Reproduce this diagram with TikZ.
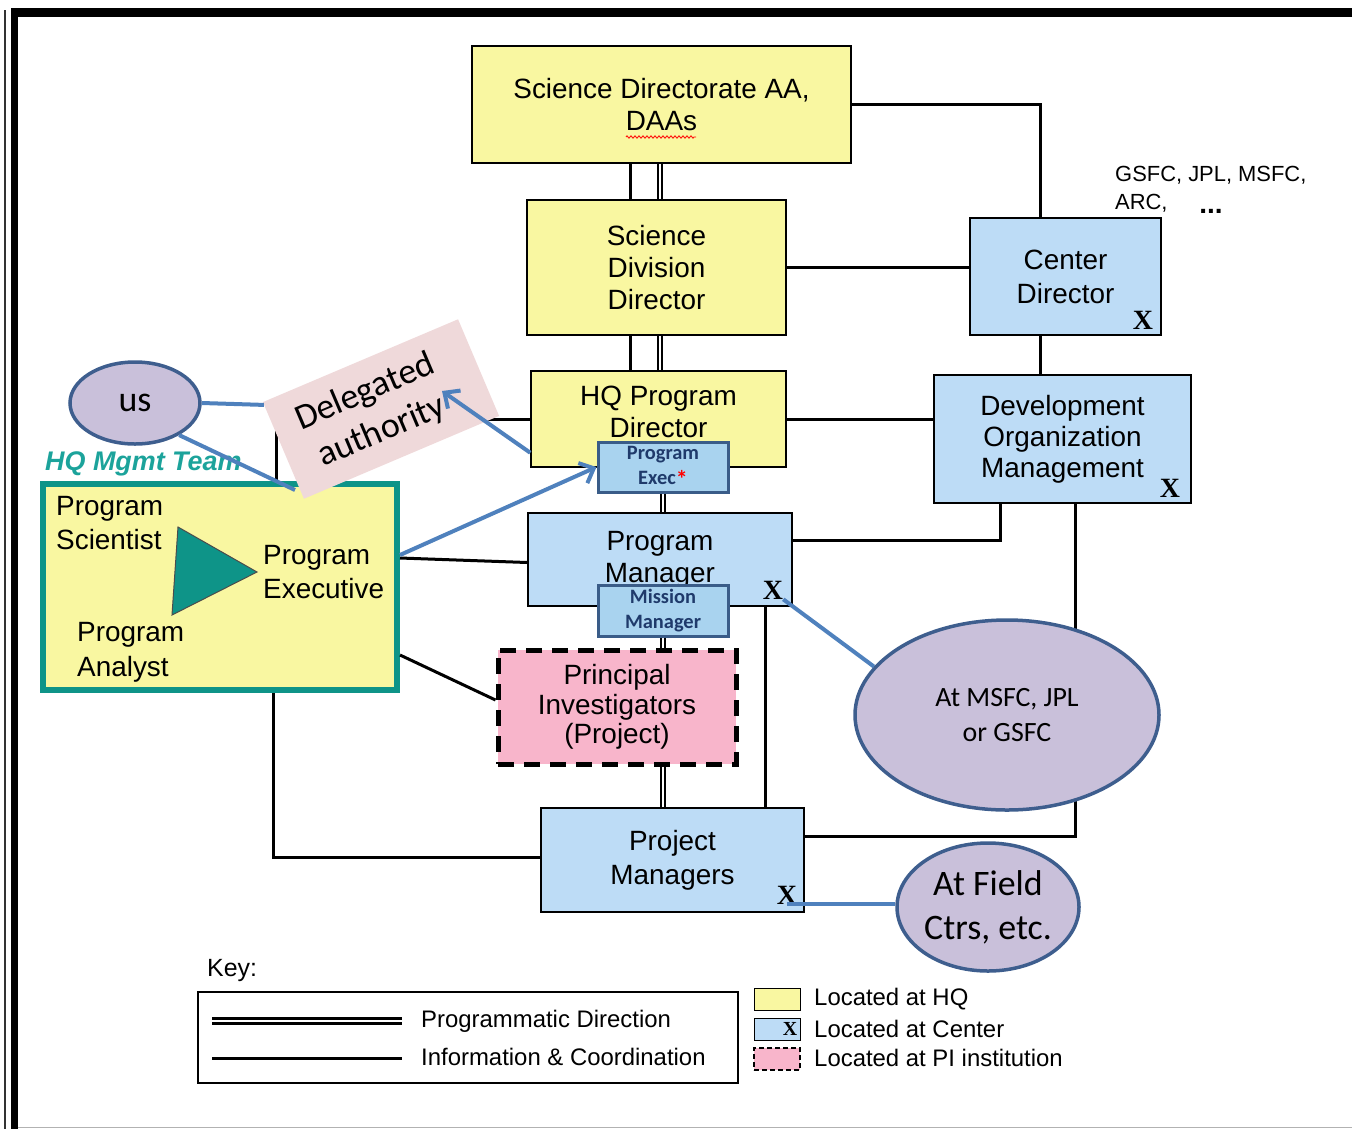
\documentclass[tikz,border=0pt]{standalone}
\usepackage{fontspec}
\setmainfont{Liberation Sans}
\newfontfamily\calibri{Carlito}
\newfontfamily\serifx{Liberation Serif}
\usetikzlibrary{arrows.meta,shapes.geometric,decorations.pathmorphing}

\begin{document}
\begin{tikzpicture}[x=1bp, y=-1bp,
  box/.style={draw=black, line width=1.5bp, inner sep=0pt, align=center,
    font=\fontsize{28}{32}\selectfont},
  hqbox/.style={box, fill=hqyellow},
  ctrbox/.style={box, fill=ctrblue},
  pibox/.style={box, fill=pipink, line width=5bp, dash pattern=on 16bp off 10bp},
  subbox/.style={draw=subedge, line width=3bp, fill=subblue, inner sep=0pt,
    align=center, text=navy, font=\calibri\bfseries\fontsize{20.5}{25}\selectfont},
  bubble/.style={ellipse, draw=bubbleedge, line width=3.5bp, fill=bubblefill,
    inner sep=0pt, align=center},
  xmark/.style={inner sep=0pt, font=\serifx\bfseries\fontsize{28}{28}\selectfont},
  info/.style={draw=black, line width=3bp},
  prog/.style={draw=black, line width=2.2bp, double=white, double distance=2.5bp},
  note/.style={draw=noteblue, line width=4bp},
  teamtext/.style={anchor=west, align=left, inner sep=0pt,
    font=\fontsize{28}{35}\selectfont},
  keytext/.style={anchor=west, inner sep=0pt, font=\fontsize{24}{28}\selectfont}
]
  % Define colors
  \definecolor{hqyellow}{HTML}{F9F7A1}
  \definecolor{ctrblue}{HTML}{BDDCF6}
  \definecolor{pipink}{HTML}{F8B5CB}
  \definecolor{subblue}{HTML}{A9D3EF}
  \definecolor{subedge}{HTML}{3A5C88}
  \definecolor{navy}{HTML}{1F3A6B}
  \definecolor{notepink}{HTML}{EFD9DA}
  \definecolor{bubblefill}{HTML}{C9C0DA}
  \definecolor{bubbleedge}{HTML}{3E5E8E}
  \definecolor{noteblue}{HTML}{4F81BD}
  \definecolor{teamteal}{HTML}{0E9488}
  \definecolor{teamlabel}{HTML}{1CA39B}

  \useasboundingbox (0,0) rectangle (1352,1129);

  % Page frame
  \fill[black] (11,8) rectangle (1352,17);
  \fill[black] (11,8) rectangle (18,1129);
  \draw[black!80, line width=1.5bp] (5,10) -- (5,1129);
  \draw[black!30, line width=1.5bp] (18,1127.5) -- (1352,1127.5);

  % Columns for the connectors
  \coordinate (infocol) at (630,0);
  \coordinate (progcol) at (660,0);
  \coordinate (pmcol) at (765,0);
  \coordinate (cdcol) at (1040,0);
  \coordinate (domleft) at (1000,0);
  \coordinate (domright) at (1075,0);
  \coordinate (teamtop) at (276,0);
  \coordinate (teambot) at (273,0);

  % Boxes
  \node[hqbox, minimum width=379bp, minimum height=117bp] (sdaa) at (661.5,104.5) {Science Directorate AA,\\DAAs};
  \draw[red, line width=0.8bp, decorate, decoration={zigzag, segment length=4bp, amplitude=1.2bp}] (626,137) -- (696,137);
  \node[hqbox, minimum width=259bp, minimum height=135bp] (sdd) at (656.5,267.5) {Science\\Division\\Director};
  \node[hqbox, minimum width=255bp, minimum height=96bp] (hqpd) at (658.5,419) {};
  \node[inner sep=0pt, align=center, font=\fontsize{28}{32}\selectfont] (hqpdtext) at (658.5,412) {HQ Program\\Director};
  \node[subbox, minimum width=130bp, minimum height=50bp] (pexec) at (663,467) {Program\\Exec{\color{red}\raisebox{-3bp}{\fontsize{24}{25}\selectfont*}}};
  \node[ctrbox, minimum width=264bp, minimum height=93bp] (pm) at (660,559.5) {Program\\Manager};
  \node[subbox, minimum width=130bp, minimum height=51bp] (mman) at (663,610.5) {Mission\\Manager};
  \node[pibox, minimum width=238bp, minimum height=114bp, font=\fontsize{28}{29.5}\selectfont] (pi) at (617,707) {Principal\\Investigators\\(Project)};
  \node[ctrbox, minimum width=263bp, minimum height=104bp, font=\fontsize{28}{34}\selectfont] (projm) at (672.5,860) {Project\\Managers};
  \node[ctrbox, minimum width=191bp, minimum height=117bp, font=\fontsize{28}{34}\selectfont] (cd) at (1065.5,276.5) {Center\\Director};
  \node[ctrbox, minimum width=257bp, minimum height=128bp, font=\fontsize{28}{31}\selectfont] (dom) at (1062.5,439) {Development\\Organization\\Management};

  % Center marks
  \node[xmark] (cdx) at (1143,320) {X};
  \node[xmark] (domx) at (1170,488) {X};
  \node[xmark] (pmx) at (773,590) {X};
  \node[xmark] (projx) at (787,895) {X};

  % Centers
  \node[anchor=west, align=left, inner sep=0pt, font=\fontsize{22}{28}\selectfont] (centers) at (1115,189) {GSFC, JPL, MSFC,\\ARC,};
  \node[inner sep=0pt, font=\bfseries\fontsize{28}{28}\selectfont] (dots) at (1211,211) {...};

  % HQ management team
  \node[draw=teamteal, line width=6bp, fill=hqyellow, minimum width=354bp, minimum height=206bp] (hqm) at (220,587) {};
  \node[anchor=west, inner sep=0pt, text=teamlabel, font=\bfseries\itshape\fontsize{27}{27}\selectfont] (teamlbl) at (45,464) {HQ Mgmt Team};
  \filldraw[fill=teamteal, draw=black!70, line width=1bp] (178,527) -- (172,615) -- (257,572) -- cycle;
  \node[teamtext] (psci) at (56,523) {Program\\Scientist};
  \node[teamtext] (pexe) at (263,572) {Program\\Executive};
  \node[teamtext] (pana) at (77,652) {Program\\Analyst};

  % Programmatic direction
  \foreach \a/\b in {sdaa/sdd, sdd/hqpd} {
    \draw[info] (infocol |- \a.south) -- (infocol |- \b.north);
    \draw[prog] (progcol |- \a.south) -- (progcol |- \b.north);
  }
  \foreach \a/\b in {pexec/pm, mman/pi, pi/projm} {
    \draw[prog] (pexec.south |- \a.south) -- (pexec.south |- \b.north);
  }

  % Information and coordination
  \draw[info] (sdaa.east) -| (cdcol |- cd.north);
  \draw[info] (sdd.east) -- (sdd.east -| cd.west);
  \draw[info] (cdcol |- cd.south) -- (cdcol |- dom.north);
  \draw[info] (hqpd.east) -- (hqpd.east -| dom.west);
  \draw[info] ([yshift=19bp]pm.east) -| (domleft |- dom.south);
  \draw[info] (domright |- dom.south) |- ([yshift=24bp]projm.east);
  \draw[info] (pmcol |- pm.south) -- (pmcol |- projm.north);
  \draw[info] ([yshift=29bp]hqm.east) -- ([yshift=-3bp]pm.west);
  \draw[info] ([yshift=-68bp]hqm.east) -- ([yshift=7bp]pi.west);
  \draw[info] (teambot |- hqm.south) |- ([yshift=3bp]projm.west);
  \draw[info] (hqpd.west) -| (teamtop |- hqm.north);

  % Notes
  \node[fill=notepink, rotate=23, minimum width=212bp, minimum height=105bp, inner sep=0pt, align=center, font=\calibri\fontsize{36}{43}\selectfont] (deleg) at (381,409) {Delegated\hspace*{16bp}\\authority\hspace*{16bp}};
  \node[bubble, minimum width=130bp, minimum height=82bp, font=\calibri\fontsize{36}{36}\selectfont] (us) at (135,403) {us};
  \node[bubble, minimum width=304bp, minimum height=190bp, font=\calibri\fontsize{28}{36}\selectfont] (msfc) at (1007,715) {At MSFC, JPL\\or GSFC};
  \node[bubble, minimum width=182bp, minimum height=128bp, font=\calibri\fontsize{36}{44}\selectfont] (field) at (988,907) {At Field\\Ctrs, etc.};
  \coordinate (teamtip) at (295,490);
  \coordinate (delegtip) at (442,391);

  \draw[note] (us.east) -- (deleg.155);
  \draw[note] (us.-36) -- (teamtip);
  \draw[note, -{Straight Barb[length=12bp, width=22bp]}] ([yshift=15bp]hqpd.south west) -- (delegtip);
  \draw[note, -{Straight Barb[length=12bp, width=22bp]}] ([yshift=32bp]hqm.east) -- (pexec.west);
  \draw[note] (pmx.south east) -- (msfc.160);
  \draw[note] (projx.south) -- (projx.south -| field.west);

  % Key
  \node[keytext, font=\fontsize{25}{28}\selectfont] (keylbl) at (207,970) {Key:};
  \node[draw=black, line width=1.5bp, minimum width=540bp, minimum height=91bp] (keybox) at (468,1037.5) {};
  \draw[prog, line width=2.8bp, double distance=2bp] (212,1021) -- (402,1021);
  \draw[info] (212,1058) -- (402,1058);
  \node[keytext] (keyprog) at (421,1021) {Programmatic Direction};
  \node[keytext] (keyinfo) at (421,1057) {Information \& Coordination};

  \node[hqbox, line width=1bp, minimum width=46bp, minimum height=22bp] (swhq) at (777,999) {};
  \node[ctrbox, line width=1bp, minimum width=46bp, minimum height=22bp] (swctr) at (777,1029) {};
  \node[xmark, anchor=east, font=\serifx\bfseries\fontsize{20}{20}\selectfont] (swx) at ([xshift=-3bp]swctr.east) {X};
  \node[pibox, line width=2bp, dash pattern=on 5bp off 3bp, minimum width=46bp, minimum height=22bp] (swpi) at (777,1059) {};
  \node[keytext] (keyhq) at (814,999) {Located at HQ};
  \node[keytext] (keyctr) at (814,1029) {Located at Center};
  \node[keytext] (keypi) at (814,1058) {Located at PI institution};
\end{tikzpicture}
\end{document}
